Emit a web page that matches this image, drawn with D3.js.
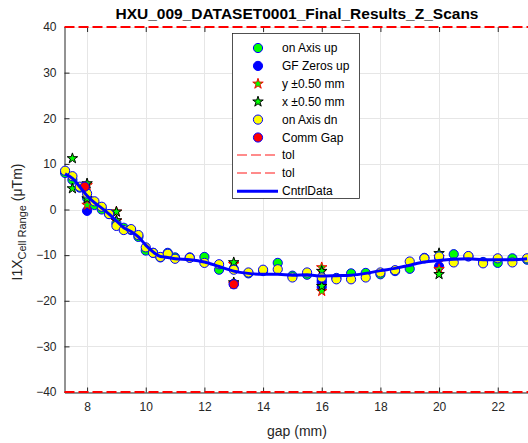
<!DOCTYPE html>
<html><head><meta charset="utf-8">
<script src="https://cdn.jsdelivr.net/npm/d3@7"></script>
<style>body{margin:0;background:#fff;} svg{display:block;font-family:"Liberation Sans",Arial,sans-serif;}</style>
</head><body>
<svg id="c" width="528" height="443"></svg>
<script>
const gaps = [7.25,7.5,7.75,8,8.25,8.5,8.75,9,9.25,9.5,9.75,10,10.25,10.5,10.75,11,11.5,12,12.5,13,13.5,14,14.5,15,15.5,16,16.5,17,17.5,18,18.5,19,19.5,20,20.5,21,21.5,22,22.5,23];
const onAxisUp = [8.0,6.5,4.8,2.5,1.0,0.0,-1.0,-3.0,-4.0,-4.5,-6.0,-9.0,-9.5,-10.5,-9.5,-10.5,-10.5,-10.4,-13.2,-13.0,-14.0,-13.5,-11.7,-14.5,-14.3,-15.5,-15.0,-14.0,-13.9,-14.2,-13.5,-13.0,-10.6,-10.5,-9.8,-10.3,-11.5,-11.7,-10.7,-11.0];
const onAxisDn = [8.5,7.3,5.0,3.5,1.8,0.6,-1.0,-3.6,-4.5,-4.3,-5.6,-8.3,-9.5,-10.4,-9.7,-10.8,-10.6,-11.7,-12.0,-13.2,-13.8,-13.2,-13.1,-14.9,-13.8,-14.9,-15.3,-15.3,-14.9,-13.8,-13.3,-11.4,-10.7,-10.3,-11.6,-10.2,-11.8,-10.7,-11.6,-10.7];
const gfGaps = [8,13,16,16,20];
const gfZerosUp = [-0.3,-16.3,-16.0,-17.0,-12.5];
const yStarGaps = [8,8,9,9,13,13,16,16,20,20];
const yStarVals = [1.0,5.3,-0.5,-2.5,-16.3,-12.0,-12.7,-17.9,-13.1,-10.5];
const xStarGaps = [7.5,7.5,8,8,9,9,13,13,16,16,20,20];
const xStarVals = [11.2,4.6,5.7,2.4,-0.5,-2.4,-11.6,-16.0,-13.5,-16.8,-9.6,-14.2];
const commGaps = [7.92,13];
const commGap = [5.0,-16.4];
const tolVals = [40,-40];
const cntrlData = [7.8,6.8,5.0,3.0,1.5,0.3,-1.0,-2.5,-4.0,-4.8,-6.0,-7.8,-9.3,-10.3,-10.5,-10.8,-11.0,-11.5,-12.5,-13.5,-14.0,-14.2,-14.2,-14.4,-14.3,-14.6,-14.5,-14.4,-14.0,-13.4,-12.9,-12.2,-11.5,-11.2,-10.9,-10.8,-11.0,-11.0,-11.0,-10.8];
const xTicks = [8,10,12,14,16,18,20,22];
const yTicks = [-40,-30,-20,-10,0,10,20,30,40];
const legendLabels = ["on Axis up","GF Zeros up","y \u00b10.50 mm","x \u00b10.50 mm","on Axis dn","Comm Gap","tol","tol","CntrlData"];

const svg = d3.select("#c");
const L = 64.5, R = 530, T = 27, B = 392;
const x = d3.scaleLinear().domain([7.23, 23.1]).range([L, R]);
const y = d3.scaleLinear().domain([-40, 40]).range([B, T]);
const axisCol = "#262626";

// grid
const g = svg.append("g");
g.selectAll(".gx").data(xTicks).join("line").attr("x1",d=>Math.round(x(d))+0.5).attr("x2",d=>Math.round(x(d))+0.5).attr("y1",T).attr("y2",B).attr("stroke","#e6e6e6");
g.selectAll(".gy").data(yTicks).join("line").attr("x1",L).attr("x2",R).attr("y1",d=>Math.round(y(d))+0.5).attr("y2",d=>Math.round(y(d))+0.5).attr("stroke","#e6e6e6");

// axes
const ax = svg.append("g").attr("transform",`translate(0,${B+0.5})`).call(d3.axisBottom(x).tickValues(xTicks).tickSizeInner(-5).tickSizeOuter(0).tickPadding(10).tickFormat(d3.format("d")));
const ay = svg.append("g").attr("transform",`translate(${L},0)`).call(d3.axisLeft(y).tickValues(yTicks).tickSizeInner(-5).tickSizeOuter(0).tickPadding(8).tickFormat(d3.format("d")));
const axt = svg.append("g").attr("transform",`translate(0,${T})`).call(d3.axisTop(x).tickValues(xTicks).tickSizeInner(-5).tickSizeOuter(0).tickFormat(""));
axt.select(".domain").remove();
[ax,ay,axt].forEach(a=>{a.select(".domain").attr("stroke",axisCol);a.selectAll("line").attr("stroke",axisCol);a.selectAll("text").attr("fill",axisCol).style("font-size","12px").style("font-family","'Liberation Sans',Arial,sans-serif");});

// markers
const star = d3.symbol().type(d3.symbolStar).size(34);
const plotG = svg.append("g");
function circles(gx, vals, fill){
  plotG.append("g").selectAll("circle").data(gx.map((d,i)=>[d,vals[i]])).join("circle")
    .attr("cx",d=>x(d[0])).attr("cy",d=>y(d[1])).attr("r",4.6)
    .attr("fill",fill).attr("stroke","#0000ff").attr("stroke-width",1);
}
function stars(gx, vals, edge){
  plotG.append("g").selectAll("path").data(gx.map((d,i)=>[d,vals[i]])).join("path")
    .attr("d",star).attr("transform",d=>`translate(${x(d[0])},${y(d[1])})`)
    .attr("fill","#00ff00").attr("stroke",edge).attr("stroke-width",1);
}
circles(gaps, onAxisUp, "#00ff00");
circles(gfGaps, gfZerosUp, "#0000ff");
stars(yStarGaps, yStarVals, "#ff0000");
stars(xStarGaps, xStarVals, "#000000");
circles(gaps, onAxisDn, "#ffff00");
circles(commGaps, commGap, "#ff0000");

// tol lines
svg.append("g").selectAll("line").data(tolVals).join("line")
  .attr("x1",L).attr("x2",R).attr("y1",d=>y(d)).attr("y2",d=>y(d))
  .attr("stroke","#ff0000").attr("stroke-width",2).attr("stroke-dasharray","10,4");

// cntrl line
svg.append("path").datum(gaps.map((d,i)=>[d,cntrlData[i]]))
  .attr("d",d3.line().x(d=>x(d[0])).y(d=>y(d[1])).curve(d3.curveMonotoneX))
  .attr("fill","none").attr("stroke","#0000ff").attr("stroke-width",3);

// title
svg.append("text").attr("x",297).attr("y",19).attr("text-anchor","middle")
  .style("font-weight","bold").style("font-size","15.5px").attr("fill","#000").text("HXU_009_DATASET0001_Final_Results_Z_Scans");
// x label
svg.append("text").attr("x",297).attr("y",436).attr("text-anchor","middle").style("font-size","14px").attr("fill",axisCol).text("gap (mm)");
// y label
const yl = svg.append("text").attr("transform","translate(22,222) rotate(-90)").attr("text-anchor","middle").style("font-size","14px").attr("fill",axisCol);
yl.append("tspan").text("I1X");
yl.append("tspan").attr("dy",4).style("font-size","11px").text("Cell Range");
yl.append("tspan").attr("dy",-4).text(" (\u03bcTm)");

// legend
const lg = svg.append("g");
lg.append("rect").attr("x",232.5).attr("y",33.5).attr("width",127).attr("height",165).attr("fill","#fff").attr("stroke",axisCol).attr("stroke-width",0.8);
legendLabels.forEach((t,i)=>{
  const cy = 48 + i*17.9;
  lg.append("text").attr("x",282).attr("y",cy+4).style("font-size","12px").attr("fill","#000").text(t);
  if(i===0||i===1||i===4||i===5){
    const f = ["#00ff00","#0000ff",null,null,"#ffff00","#ff0000"][i];
    lg.append("circle").attr("cx",258).attr("cy",cy).attr("r",4.6).attr("fill",f).attr("stroke","#0000ff");
  } else if(i===2||i===3){
    lg.append("path").attr("d",star).attr("transform",`translate(258,${cy})`).attr("fill","#00ff00").attr("stroke",i===2?"#ff0000":"#000");
  } else if(i===6||i===7){
    lg.append("line").attr("x1",237).attr("x2",278).attr("y1",Math.round(cy)).attr("y2",Math.round(cy)).attr("stroke","#ff6666").attr("stroke-width",1.5).attr("stroke-dasharray","10,4");
  } else {
    lg.append("line").attr("x1",237).attr("x2",278).attr("y1",cy).attr("y2",cy).attr("stroke","#0000ff").attr("stroke-width",3);
  }
});
</script>
</body></html>
